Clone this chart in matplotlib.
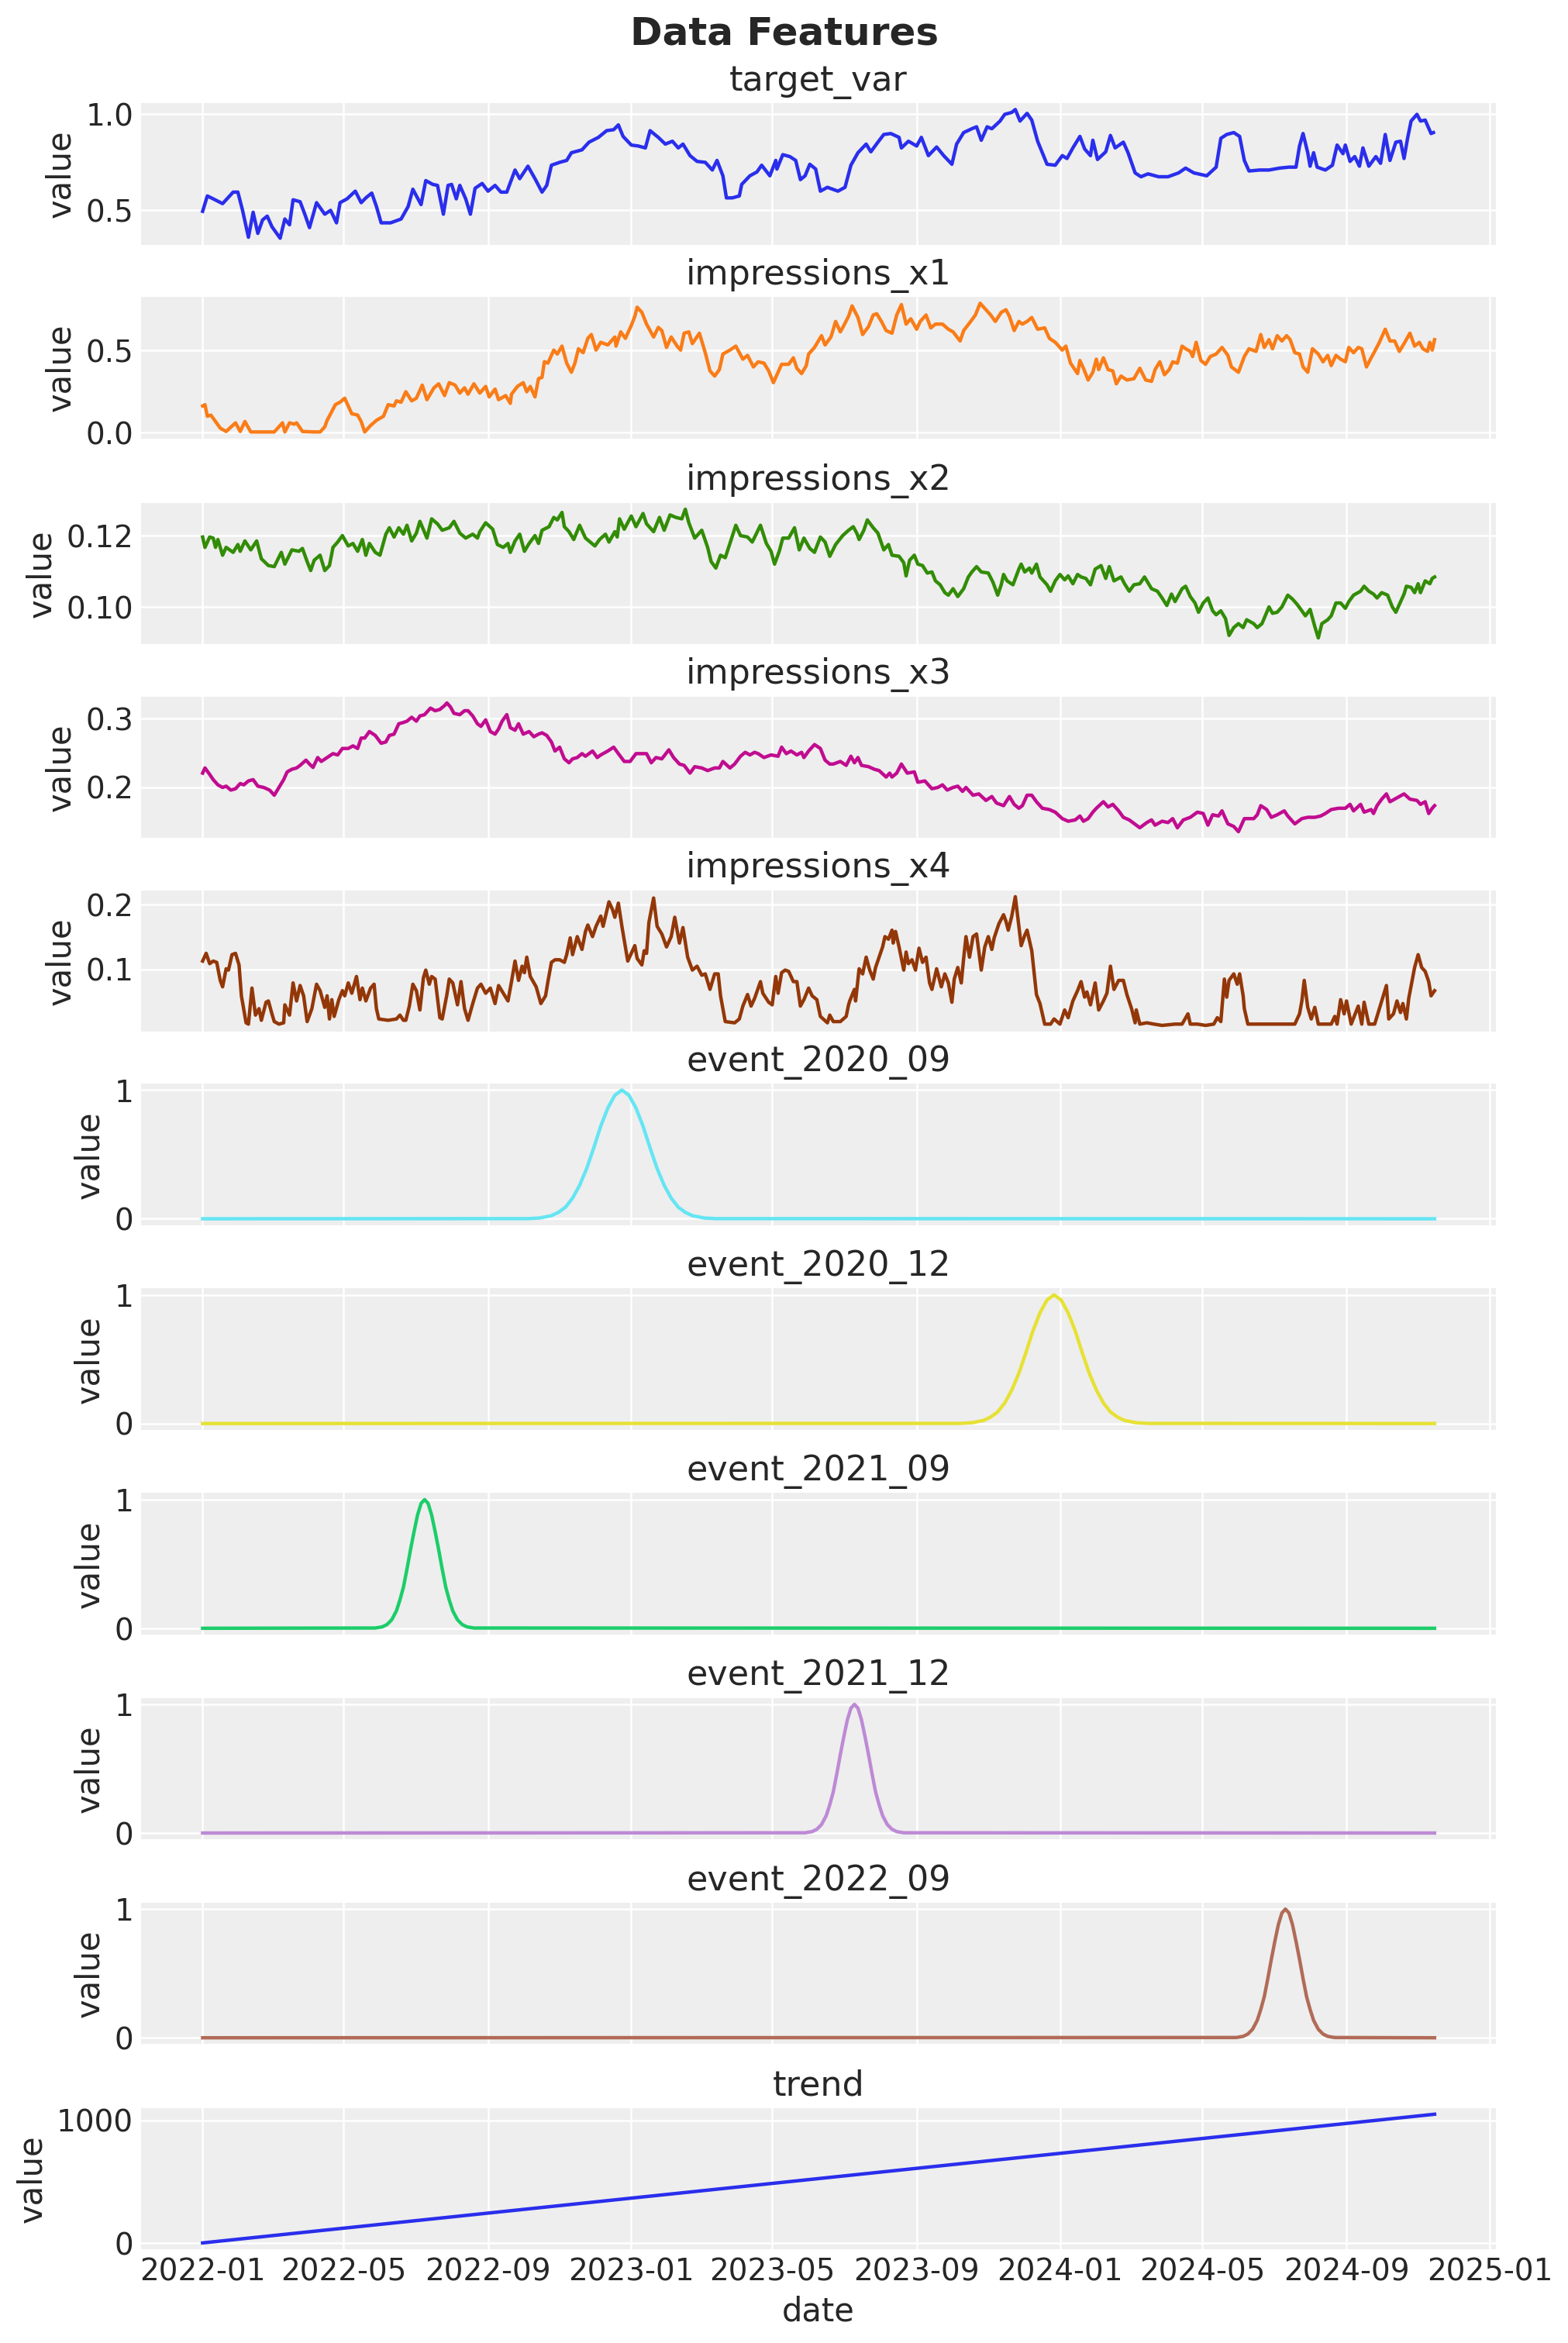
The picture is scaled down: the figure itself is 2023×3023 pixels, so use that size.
import numpy as np
import matplotlib
matplotlib.use("Agg")
import matplotlib.pyplot as plt

# ---------------- data (day offsets from 2022-01-01) -------------
start_date = np.datetime64("2022-01-01")

target_days = [0,4,9,17,26,30,34,39,43,47, 51,55,59,66,70,74,77,83,87,91, 97,104,109,114,117,123,130,135,139,144,
    148,152,160,169,175,179,186,190,196,200, 205,209,212,216,219,224,228,232,238,243, 249,254,259,266,270,277,283,289,293,297,
    304,310,314,323,329,337,344,350,354,358, 365,371,377,381,388,394,400,405,409,415, 421,428,434,438,443,446,451,457,459,466,
    472,476,483,488,
    489,494,500,505,509,513,517,522,526,532, 541,547,552,558,565,569,575,580,586,593, 595,601,608,612,618,625,631,638,642,648,
    655,659,663,668,672,679,683,689,692,696, 702,706,711,715,719,726,732,736,741,747, 751,756,758,762,769,773,777,784,788,794,
    799,805,814,822,831,837,844,855,863,867, 872,878,883,887,891,900,908,917,925,931, 934,937,941,943,946,949,956,962,966,971,
    973,977,981,985,988,993,999,1003,1007,1011, 1016,1020,1023,1026,1029,1034,1037,1041,1046,1048]
target_vals = [0.495,0.575,0.56,0.535,0.595,0.595,0.50,0.36,0.49,0.38, 0.45,0.47,0.415,0.355,0.455,0.425,0.555,0.545,0.48,0.41,
    0.54,0.48,0.50,0.435,0.54,0.56,0.60,0.54,0.565,0.59, 0.52,0.435,0.435,0.455,0.52,0.61,0.53,0.655,0.635,0.63,
    0.48,0.63,0.635,0.56,0.63,0.56,0.48,0.615,0.64,0.60, 0.63,0.595,0.595,0.71,0.665,0.73,0.665,0.595,0.63,0.735,
    0.75,0.76,0.80,0.815,0.855,0.88,0.915,0.92,0.945,0.885, 0.84,0.835,0.825,0.915,0.88,0.845,0.86,0.825,0.845,0.785,
    0.755,0.75,0.71,0.76,0.68,0.565,0.565,0.575,0.635,0.68, 0.70,0.735,0.68,0.76,
    0.715,0.79,0.78,0.76,0.66,0.68,0.74,0.715,0.60,0.62, 0.60,0.62,0.735,0.80,0.845,0.805,0.855,0.895,0.90,0.88,
    0.825,0.86,0.835,0.88,0.785,0.83,0.785,0.74,0.845,0.905, 0.925,0.935,0.865,0.935,0.925,0.965,1.0,1.01,1.025,0.965,
    1.005,0.97,0.86,0.80,0.74,0.735,0.785,0.77,0.825,0.885, 0.82,0.785,0.865,0.765,0.805,0.89,0.825,0.855,0.80,0.695,
    0.675,0.69,0.675,0.675,0.695,0.72,0.695,0.68,0.725,0.875, 0.895,0.905,0.885,0.76,0.705,0.71,0.71,0.72,0.725,0.725,
    0.835,0.90,0.80,0.73,0.80,0.725,0.71,0.735,0.84,0.795, 0.84,0.755,0.78,0.73,0.825,0.73,0.78,0.745,0.895,0.76,
    0.855,0.86,0.77,0.875,0.965,1.0,0.965,0.97,0.90,0.905]

x1_days = [0,2,4,7,11,15,20,28,32,36, 41,50,61,68,70,74,78,80,85,95, 100,104,106,109,113,117,121,124,127,132,
    135,138,143,148,154,158,163,165,169,173, 178,182,187,191,197,201,206,210,215,219, 223,226,231,236,241,244,249,252,258,262,
    263,268,273,276,279,283,286,289,291,294, 299,302,306,310,314,317,320,324,328,331, 335,339,345,351,352,356,360,365,368,370,
    374,378,384,388,391,395,399,404,407,410, 414,417,423,427,428,432,436,440,443,449, 454,460,464,469,473,478,482,486,490,493,
    499,503,506,510,514,516,521,527,
    530,535,539,543,546,550,553,558,562,567, 571,574,578,582,587,591,595,599,603,608, 611,616,620,624,630,635,639,645,648,654,
    658,662,667,671,675,680,684,687,691,695, 698,702,706,711,717,721,726,732,735,739, 745,747,750,754,758,761,763,767,771,775,
    778,782,787,793,798,803,808,811,815,819, 823,826,830,834,837,841,843,846,850,854, 858,863,868,873,876,882,887,891,897,901,
    904,908,911,915,919,923,926,930,934,937, 941,945,950,954,958,961,965,969,973,976, 980,984,987,991,995,998,1002,1007,1011,1015,
    1019,1023,1028,1032,1036,1039,1043,1045,1047,1049]
x1_vals = [0.162,0.17,0.10,0.107,0.068,0.028,0.008,0.06,0.008,0.068, 0.005,0.005,0.005,0.06,0.005,0.06,0.052,0.06,0.008,0.005,
    0.005,0.036,0.075,0.115,0.17,0.185,0.209,0.162,0.115,0.107, 0.068,0.005,0.044,0.075,0.10,0.17,0.162,0.193,0.185,0.248,
    0.193,0.209,0.288,0.20,0.272,0.296,0.225,0.303,0.288,0.24, 0.272,0.233,0.296,0.24,0.28,0.217,0.264,0.20,0.225,0.178,
    0.233,0.28,0.303,0.248,0.28,0.217,0.327,0.335,0.43,0.421, 0.50,0.476,0.524,0.421,0.366,0.421,0.508,0.484,0.571,0.594,
    0.50,0.547,0.531,0.579,0.524,0.61,0.571,0.649,0.704,0.759, 0.728,0.657,0.579,0.637,0.618,0.516,0.579,0.524,0.50,0.602,
    0.61,0.539,0.602,0.508,0.484,0.374,0.343,0.382,0.476,0.50, 0.524,0.445,0.468,0.398,0.429,0.421,0.374,0.303,0.366,0.414,
    0.414,0.453,0.39,0.358,0.406,0.476,0.516,0.587,
    0.531,0.579,0.673,0.61,0.649,0.704,0.767,0.697,0.594,0.642, 0.712,0.72,0.673,0.618,0.602,0.712,0.775,0.657,0.689,0.626,
    0.673,0.712,0.634,0.657,0.657,0.626,0.61,0.555,0.618,0.673, 0.712,0.783,0.744,0.712,0.673,0.728,0.744,0.704,0.618,0.673,
    0.657,0.673,0.697,0.626,0.634,0.571,0.547,0.50,0.524,0.421, 0.358,0.437,0.39,0.319,0.366,0.445,0.382,0.453,0.382,0.374,
    0.296,0.343,0.319,0.327,0.39,0.319,0.311,0.382,0.429,0.351, 0.382,0.429,0.421,0.524,0.508,0.492,0.461,0.547,0.437,0.414,
    0.461,0.476,0.516,0.468,0.398,0.366,0.461,0.508,0.492,0.594, 0.516,0.563,0.508,0.587,0.555,0.587,0.563,0.484,0.476,0.398,
    0.366,0.508,0.476,0.429,0.468,0.406,0.468,0.445,0.429,0.516, 0.484,0.516,0.508,0.398,0.453,0.492,0.547,0.626,0.555,0.555,
    0.492,0.539,0.602,0.524,0.547,0.508,0.492,0.547,0.50,0.563]

x2_days = [0,2,6,9,11,13,17,20,26,30, 32,36,41,46,50,56,61,67,70,76, 82,85,89,92,95,100,104,108,111,115,
    119,124,128,132,136,139,142,147,151,156, 159,163,167,171,174,178,182,185,191,195, 200,204,210,214,219,224,230,234,236,241,
    247,251,256,260,262,266,270,274,278,283, 286,289,295,299,302,306,308,312,316,321, 326,334,338,343,346,351,353,355,359,365,
    369,375,378,384,389,393,398,403,408,411, 414,419,425,430,433,437,441,445,449,454, 458,464,468,475,480,484,487,491,494,499,
    504,508,512,517,521,526,
    530,534,539,545,550,554,557,559,563,566, 571,575,580,584,587,593,597,599,602,606, 609,613,617,621,624,628,632,635,639,643,
    648,652,655,659,663,669,673,677,680,682, 685,690,695,697,700,704,706,710,713,719, 722,726,730,734,737,741,745,748,752,756,
    760,765,769,772,776,782,785,789,793,798, 802,808,813,817,821,825,828,834,837,841, 845,848,852,856,860,863,867,871,874,878,
    882,886,889,895,898,902,908,911,915,919, 924,928,932,936,939,943,947,950,953,958, 961,965,969,973,976,980,986,989,993,997,
    1000,1004,1009,1013,1016,1019,1023,1025,1029,1032, 1035,1037,1041,1045,1047,1049]
x2_vals = [0.1196,0.1167,0.1196,0.1193,0.1167,0.1189,0.1145,0.1167,0.1153,0.1175, 0.1156,0.1185,0.116,0.1185,0.1135,0.1116,0.1113,0.1153,0.112,0.116,
    0.1156,0.1164,0.1127,0.1102,0.1131,0.1145,0.1102,0.1116,0.1167,0.1182, 0.12,0.1171,0.1178,0.1156,0.1189,0.1145,0.1178,0.1153,0.1145,0.1204,
    0.1222,0.1196,0.1222,0.1204,0.1229,0.1185,0.1207,0.124,0.1193,0.1247, 0.1233,0.1215,0.1222,0.124,0.1207,0.1193,0.1204,0.1193,0.1211,0.1236,
    0.1218,0.1175,0.1167,0.1178,0.1153,0.1185,0.1204,0.1156,0.1178,0.12, 0.1178,0.1215,0.1225,0.1251,0.1244,0.1265,0.1225,0.1211,0.1189,0.1229,
    0.1193,0.1171,0.1189,0.1204,0.1182,0.1211,0.1196,0.1247,0.1218,0.1255, 0.1225,0.1262,0.1233,0.1211,0.1251,0.1215,0.1258,0.1251,0.1247,0.1274,
    0.1236,0.1193,0.1215,0.1167,0.1127,0.1109,0.1145,0.1138,0.1178,0.1229, 0.12,0.1196,0.1182,0.1229,0.1178,0.1156,0.112,0.1156,0.1193,0.1193,
    0.1222,0.116,0.1193,0.1164,0.1153,0.1196,
    0.1182,0.1142,0.1175,0.12,0.1215,0.1225,0.1207,0.1189,0.1215,0.1244, 0.1222,0.1207,0.116,0.1175,0.1145,0.1142,0.1124,0.1087,0.1131,0.1145,
    0.112,0.1116,0.1095,0.1098,0.1073,0.1062,0.104,0.1033,0.1051,0.1029, 0.1051,0.1084,0.1098,0.1113,0.1098,0.1095,0.1069,0.1033,0.1062,0.1091,
    0.1073,0.1062,0.1106,0.112,0.1098,0.1109,0.1095,0.112,0.1084,0.1062, 0.1044,0.1073,0.1091,0.1076,0.1087,0.1065,0.1091,0.1084,0.108,0.1062,
    0.1106,0.1116,0.108,0.1113,0.1073,0.1084,0.1065,0.1044,0.1062,0.1065, 0.1084,0.1051,0.1044,0.1025,0.1004,0.1036,0.1015,0.1051,0.1058,0.1029,
    0.1011,0.0985,0.1011,0.1025,0.0989,0.0978,0.0989,0.0967,0.092,0.0942, 0.0953,0.0942,0.0964,0.0953,0.0942,0.0953,0.1,0.0982,0.0985,0.1,
    0.1033,0.1022,0.1007,0.0989,0.0975,0.0993,0.0945,0.0913,0.0953,0.0964, 0.0975,0.1011,0.1011,0.0996,0.1015,0.1033,0.1044,0.1058,0.1044,0.1036,
    0.1025,0.104,0.1033,0.1,0.0985,0.1007,0.1036,0.1058,0.1055,0.104, 0.1065,0.104,0.1073,0.1065,0.108,0.1084]

x3_days = [0,2,6,9,13,17,20,24,28,32, 35,39,43,47,52,57,61,65,69,72, 76,80,83,88,91,94,98,101,106,111,
    115,119,124,128,132,135,138,142,147,152, 156,159,163,167,171,174,178,182,185,189, 194,198,202,206,208,211,214,219,223,226,
    230,234,237,241,245,249,252,255,259,262, 266,269,273,278,282,286,289,293,297,300, 304,308,312,315,319,323,326,332,336,339,
    345,350,354,359,364,369,375,378,382,386, 391,397,401,406,410,415,419,425,430,436, 440,443,449,453,458,462,466,470,473,478,
    484,490,493,497,501,506,510,512,516,521, 526,
    530,534,537,543,548,552,555,558,561,567, 572,576,582,585,587,591,595,600,606,609, 615,621,626,630,634,639,643,647,650,656,
    661,667,672,676,682,687,691,695,698,702, 706,710,715,721,726,732,737,743,747,750, 754,758,761,767,771,775,780,784,789,795,
    798,804,808,811,817,822,826,830,835,841, 847,852,856,860,865,868,873,878,882,887, 895,898,901,906,910,915,921,924,930,936,
    941,947,952,956,961,967,973,977,980,986, 989,995,997,1000,1004,1008,1011,1017,1023,1028, 1034,1037,1041,1044,1047,1049]
x3_vals = [0.2205,0.228,0.2186,0.211,0.2034,0.1996,0.2015,0.1958,0.1977,0.2053, 0.2034,0.2091,0.211,0.2015,0.1996,0.1958,0.1883,0.1996,0.211,0.2223,
    0.2261,0.228,0.2318,0.2394,0.2337,0.2288,0.2432,0.2375,0.2432,0.2489, 0.247,0.2564,0.2564,0.2602,0.2564,0.2716,0.2716,0.2811,0.2754,0.264,
    0.2659,0.2754,0.2773,0.2924,0.2943,0.2962,0.3019,0.2962,0.3038,0.3057, 0.3152,0.3114,0.3133,0.3189,0.3227,0.317,0.3076,0.3057,0.3114,0.3114,
    0.3038,0.2924,0.2886,0.2981,0.2811,0.2773,0.2848,0.2962,0.3057,0.2867, 0.283,0.2924,0.2773,0.2811,0.2735,0.2773,0.2792,0.2754,0.2659,0.2527,
    0.2583,0.2413,0.2356,0.2413,0.2432,0.2489,0.2451,0.2527,0.2432,0.247, 0.2527,0.2583,0.2489,0.2375,0.2375,0.2489,0.2489,0.2489,0.2356,0.2432,
    0.2413,0.2545,0.2432,0.2337,0.2318,0.2205,0.2299,0.228,0.2242,0.228, 0.228,0.2375,0.228,0.2337,0.2451,0.2508,0.247,0.2508,0.2489,0.2432,
    0.247,0.2451,0.2583,0.2489,0.2527,0.247,0.2508,0.2432,0.2527,0.2621, 0.2564,
    0.2394,0.2337,0.2337,0.2375,0.2318,0.2451,0.2356,0.2432,0.2318,0.2299, 0.2261,0.2242,0.2148,0.2205,0.2148,0.2205,0.2337,0.2205,0.2223,0.2072,
    0.2091,0.1977,0.1996,0.2034,0.1958,0.1996,0.2015,0.1939,0.1996,0.1883, 0.1902,0.1807,0.1864,0.1769,0.1731,0.1864,0.175,0.1693,0.1731,0.1883,
    0.1883,0.1788,0.1693,0.1674,0.1636,0.1542,0.1504,0.1523,0.158,0.1504, 0.1542,0.1636,0.1693,0.1788,0.1712,0.175,0.1655,0.1561,0.1523,0.1447,
    0.1409,0.1485,0.1523,0.1447,0.1504,0.1485,0.1542,0.1409,0.1523,0.1561, 0.1636,0.1617,0.1447,0.1598,0.158,0.1655,0.1466,0.1428,0.1352,0.1542,
    0.1542,0.1598,0.1731,0.1674,0.1561,0.1598,0.1655,0.158,0.1466,0.1542, 0.1561,0.1561,0.158,0.1617,0.1674,0.1693,0.1693,0.175,0.1655,0.175,
    0.1636,0.1674,0.1617,0.1731,0.1826,0.1902,0.1788,0.1845,0.1902,0.1826, 0.1807,0.175,0.1788,0.1617,0.1693,0.1731]

x4_days = [0,3,6,9,12,15,17,20,22,25, 28,31,33,37,39,42,45,48,50,54, 56,59,61,65,69,70,74,77,80,83,
    86,89,93,97,100,104,106,108,110,112, 116,119,121,124,127,131,134,136,139,143, 146,148,150,158,165,168,171,173,176,179,
    182,185,188,190,193,195,198,202,204,208, 210,213,217,220,223,226,230,234,237,241, 245,249,252,256,260,263,266,269,272,274,
    276,279,284,288,292,294,297,300,304,308, 310,313,315,319,323,326,328,332,335,339, 341,346,349,351,354,357,360,362,365,368,
    370,374,376,378,380,384,387,391,395,399, 402,406,409,413,417,421,425,428,432,436, 439,441,445,453,457,460,464,467,470,475,
    477,482,485,488,490,493,496,499,503,506, 509,512,516,519,523,526,
    532,534,537,543,548,550,551,555,556,559, 562,565,568,571,573,576,579,581,584,587, 588,590,593,597,599,601,604,607,610,613,
    616,619,621,625,629,632,635,638,640,643, 646,648,650,653,656,659,663,666,669,672, 674,678,682,684,686,689,692,694,697,700,
    702,706,710,713,717,722,725,730,734,737, 741,745,748,751,753,756,760,763,767,770, 773,776,780,784,787,791,794,795,798,804,
    810,817,828,834,839,841,847,854,861,864, 867,870,872,874,878,881,883,886,887,890, 902,913,924,930,934,936,938,941,944,947,
    950,961,964,966,969,972,974,978,984,987, 989,993,998,1000,1004,1008,1010,1014,1017,1020, 1022,1025,1027,1032,1035,1038,1041,1044,1046,1049]
x4_vals = [0.1127,0.1246,0.1087,0.1127,0.1107,0.0829,0.073,0.1008,0.0988,0.1226, 0.1246,0.1067,0.0591,0.0175,0.0155,0.071,0.0294,0.0393,0.0214,0.0492,
    0.0512,0.0313,0.0194,0.0155,0.0175,0.0452,0.0294,0.079,0.0512,0.075, 0.0591,0.0194,0.0393,0.077,0.0671,0.0413,0.0591,0.0234,0.0532,0.0274,
    0.0532,0.0671,0.0591,0.079,0.0631,0.0889,0.0532,0.071,0.0512,0.071, 0.077,0.0393,0.0234,0.0214,0.0234,0.0294,0.0214,0.0214,0.0433,0.077,
    0.0671,0.0373,0.0869,0.0988,0.077,0.0889,0.0849,0.0254,0.0234,0.0611, 0.0849,0.079,0.0452,0.081,0.0393,0.0214,0.0472,0.071,0.077,0.0631,
    0.071,0.0472,0.075,0.0631,0.0512,0.081,0.1127,0.0829,0.1048,0.0948, 0.1187,0.0889,0.073,0.0472,0.0591,0.081,0.1107,0.1147,0.1147,0.1107,
    0.1226,0.1484,0.1226,0.1504,0.1306,0.1583,0.1683,0.1504,0.1663,0.1821, 0.1663,0.204,0.1921,0.1802,0.202,0.1663,0.1345,0.1127,0.1246,0.1365,
    0.1167,0.1067,0.1286,0.1246,0.1722,0.2099,0.1663,0.1544,0.1345,0.1504, 0.1802,0.1405,0.1643,0.1187,0.0988,0.1048,0.0909,0.0929,0.0691,0.0929,
    0.0929,0.0591,0.0194,0.0175,0.0234,0.0433,0.0611,0.0433,0.0552,0.081, 0.0631,0.0492,0.0452,0.0889,0.0631,0.0948,0.0988,0.0968,0.081,0.081,
    0.0433,0.0532,0.071,0.0591,0.0532,0.0274,
    0.0175,0.0294,0.0194,0.0194,0.0274,0.0452,0.0512,0.069,0.0512,0.1008, 0.0929,0.1187,0.0988,0.0849,0.1028,0.1187,0.1345,0.1504,0.1464,0.1603,
    0.1405,0.1583,0.1345,0.0988,0.1266,0.1087,0.1147,0.0988,0.1325,0.1107, 0.1187,0.079,0.069,0.1008,0.073,0.0929,0.079,0.0492,0.0849,0.1028,
    0.079,0.1167,0.1504,0.1187,0.1504,0.1544,0.0988,0.1345,0.1504,0.1306, 0.1484,0.1702,0.1841,0.1742,0.1603,0.1821,0.2119,0.1821,0.1365,0.1524,
    0.1603,0.1286,0.0611,0.0472,0.0155,0.0155,0.0234,0.0155,0.0373,0.0254, 0.0512,0.0671,0.081,0.0571,0.0651,0.0452,0.079,0.0373,0.0512,0.0631,
    0.1048,0.069,0.0829,0.0829,0.0611,0.0393,0.0175,0.0373,0.0155,0.0175, 0.0155,0.0135,0.0155,0.0155,0.0313,0.0155,0.0155,0.0135,0.0155,0.0254,
    0.0194,0.0849,0.0571,0.0829,0.0929,0.077,0.0929,0.0591,0.0393,0.0155, 0.0155,0.0155,0.0155,0.0155,0.0313,0.0512,0.0829,0.0413,0.0234,0.0413,
    0.0155,0.0155,0.0274,0.0155,0.0532,0.0313,0.0512,0.0155,0.0433,0.0155, 0.0492,0.0155,0.0155,0.0274,0.0512,0.075,0.0234,0.0313,0.0512,0.0333,
    0.0472,0.0234,0.0552,0.1028,0.1226,0.1028,0.0968,0.081,0.0591,0.067]

# event bumps: peak day and shape (offset in days, value)
event_names = ["event_2020_09", "event_2020_12", "event_2021_09", "event_2021_12", "event_2022_09"]
event_peaks = [357, 725, 189, 555, 922]
event_is_wide = [True, True, False, False, False]
wide_offsets = [-80,-70,-60,-54,-48,-42,-36,-30,-24,-18,-12,-6,0,6,12,18,24,30,36,42,48,54,60,70,80]
wide_vals = [0.001,0.006,0.024,0.05,0.09,0.16,0.26,0.39,0.55,0.72,0.86,0.96,1.0,
             0.96,0.86,0.72,0.55,0.39,0.26,0.16,0.09,0.05,0.024,0.006,0.001]
narrow_offsets = [-42,-36,-32,-28,-24,-21,-18,-15,-12,-9,-6,-3,0,3,6,9,12,15,18,21,24,28,32,36,42]
narrow_vals = [0.002,0.011,0.029,0.066,0.135,0.22,0.32,0.46,0.61,0.75,0.88,0.97,1.0,
               0.97,0.88,0.75,0.61,0.46,0.32,0.22,0.135,0.066,0.029,0.011,0.002]
series_end_day = 1049

trend_days = [0, 1049]
trend_vals = [0, 1049]

colors = ["#2a2eec", "#fa7c17", "#328c06", "#c10c90", "#933708",
          "#65e5f3", "#e6e135", "#1ccd6a", "#bd8ad5", "#b16b57"]

# ---------------- style (arviz-darkgrid like) ----------------
plt.rcParams.update({
    "font.family": ["DejaVu Sans"],
    "figure.facecolor": "white",
    "axes.facecolor": "#eeeeee",
    "axes.edgecolor": "white",
    "axes.grid": True,
    "axes.axisbelow": True,
    "axes.spines.left": False,
    "axes.spines.right": False,
    "axes.spines.top": False,
    "axes.spines.bottom": False,
    "grid.color": "white",
    "grid.linewidth": 0.9,
    "xtick.major.size": 0,
    "ytick.major.size": 0,
    "font.size": 14,
    "axes.titlesize": 16,
    "axes.labelsize": 15,
    "xtick.labelsize": 14,
    "ytick.labelsize": 14,
    "text.color": "#262626",
    "axes.labelcolor": "#262626",
    "xtick.color": "#262626",
    "ytick.color": "#262626",
    "lines.linewidth": 1.6,
})


def to_dates(days):
    return start_date + np.asarray(days).astype("timedelta64[D]")


panels = [
    ("target_var", target_days, target_vals),
    ("impressions_x1", x1_days, x1_vals),
    ("impressions_x2", x2_days, x2_vals),
    ("impressions_x3", x3_days, x3_vals),
    ("impressions_x4", x4_days, x4_vals),
]
for name, peak, wide in zip(event_names, event_peaks, event_is_wide):
    offs = wide_offsets if wide else narrow_offsets
    vals = wide_vals if wide else narrow_vals
    d = [0] + [peak + o for o in offs] + [series_end_day]
    v = [0.0] + list(vals) + [0.0]
    panels.append((name, d, v))
panels.append(("trend", trend_days, trend_vals))

fig, axes = plt.subplots(nrows=len(panels), ncols=1, figsize=(10, 15),
                         sharex=True, layout="constrained")
for i, (ax, (name, d, v)) in enumerate(zip(axes, panels)):
    ax.plot(to_dates(d), v, color=colors[i % len(colors)])
    ax.set_title(name)
    ax.set_ylabel("value")
axes[-1].set_xlabel("date")
fig.suptitle("Data Features", fontsize=18, fontweight="bold")

fig.savefig("out.png", dpi=200, bbox_inches="tight")
